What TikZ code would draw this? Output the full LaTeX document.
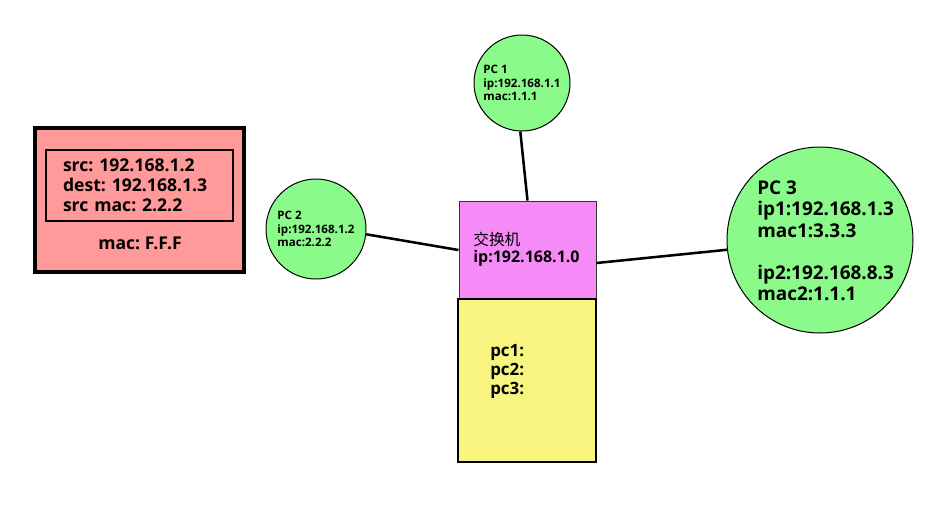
\documentclass[tikz,border=0pt]{standalone}
\usepackage{fontspec}
\setmainfont{Open Sans}
\newfontfamily\cjk{Noto Sans CJK SC}
\definecolor{pcgreen}{RGB}{138,250,138}
\definecolor{pktred}{RGB}{255,153,154}
\definecolor{swpink}{RGB}{246,138,247}
\definecolor{tabyellow}{RGB}{247,244,128}
\frenchspacing
\begin{document}
\begin{tikzpicture}[x=0.75pt,y=-0.75pt,
  pc/.style={circle, draw=black, line width=0.75pt, fill=pcgreen, inner sep=0pt, align=left, font=\bfseries},
  link/.style={line width=1.9pt},
  box/.style={rectangle, inner sep=0pt},
  txt/.style={anchor=west, inner sep=0pt, align=left},
]
\useasboundingbox (0,0) rectangle (926,519);

% packet with its header
\node[box, draw=black, line width=2.6pt, fill=pktred, minimum width=156.75pt, minimum height=108pt] (pkt) at (139.5,200) {};
\node[box, draw=black, line width=1.9pt, inner xsep=12.75pt, text width=114.75pt, minimum height=53.25pt, align=left,
      font=\fontsize{13.2}{15}\selectfont\bfseries] (hdr) at (139.5,185.5)
  {src: 192.168.1.2\\dest: 192.168.1.3\\src mac: 2.2.2};
\node[font=\fontsize{13.2}{15}\selectfont\bfseries, inner sep=0pt] (dstmac) at (140,243) {mac: F.F.F};

% hosts
\node[pc, minimum size=72pt, font=\fontsize{8.7}{10}\selectfont\bfseries] (pc1) at (522,83)
  {PC 1\\ip:192.168.1.1\\mac:1.1.1};
\node[pc, minimum size=75pt, font=\fontsize{8.7}{10}\selectfont\bfseries] (pc2) at (316,229)
  {PC 2\\ip:192.168.1.2\\mac:2.2.2};
\node[pc, minimum size=139.5pt] (pc3) at (820,240) {};
\node[txt, font=\fontsize{14.2}{15.9}\selectfont\bfseries] (pc3text) at (757,241)
  {PC 3\\ip1:192.168.1.3\\mac1:3.3.3\\[15.9pt]ip2:192.168.8.3\\mac2:1.1.1};

% switch and its address table
\node[box, draw=black!80, line width=0.75pt, fill=swpink, minimum width=102.75pt, minimum height=73.5pt] (sw) at (527.5,250) {};
\node[txt, font=\fontsize{12}{12.75}\selectfont] (swtext) at (473,249)
  {{\cjk\fontsize{11.8}{12.75}\selectfont 交换机}\\\bfseries ip:192.168.1.0};
\node[box, draw=black, line width=1.9pt, fill=tabyellow, minimum width=103.5pt, minimum height=122.25pt] (tab) at (527,380.5) {};
\node[txt, font=\fontsize{12.7}{14.25}\selectfont\bfseries] (tabtext) at (490,371)
  {pc1:\\pc2:\\pc3:};

% links
\draw[link] (pc1.-92) -- (sw.north);
\draw[link] (pc2.-6) -- (sw.west);
\draw[link] ([yshift=-9.75pt]sw.east) -- (pc3.186);
\end{tikzpicture}
\end{document}
